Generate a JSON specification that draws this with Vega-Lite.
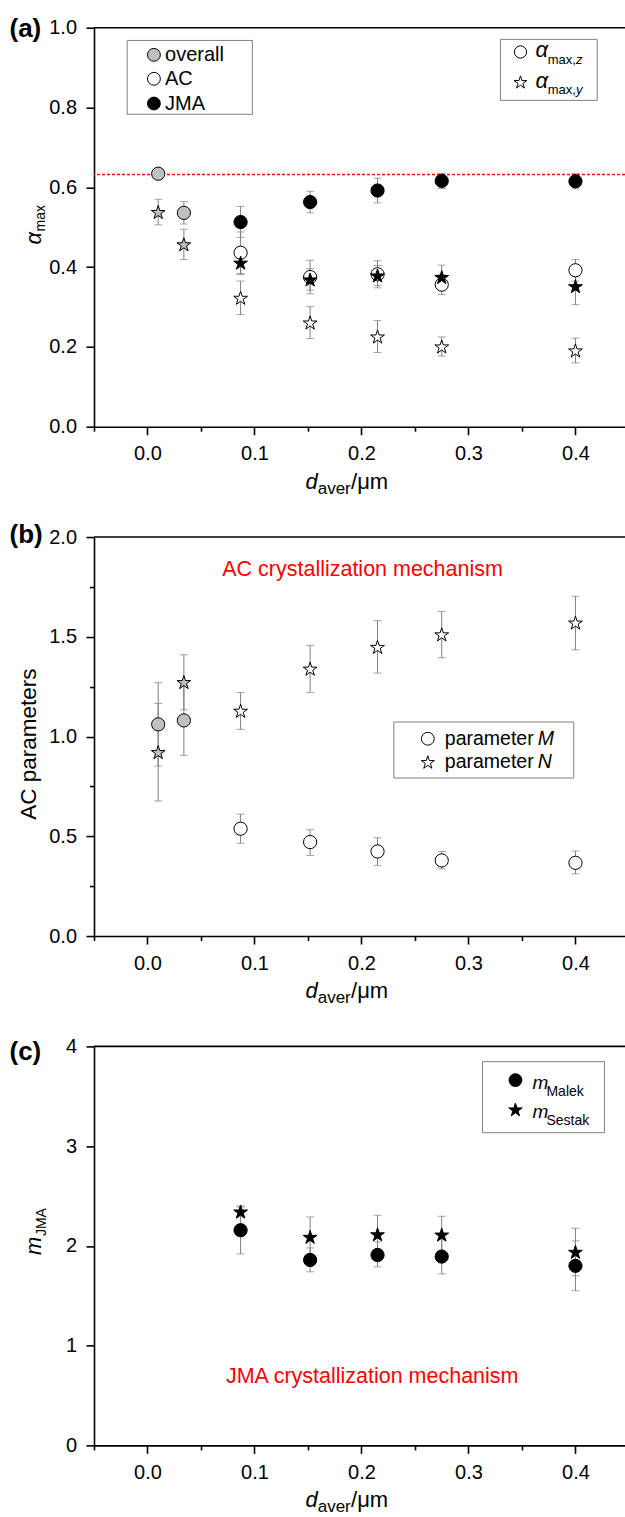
{
  "$schema": "https://vega.github.io/schema/vega-lite/v6.json",
  "padding": {"left": 9, "top": 15.7, "right": 0, "bottom": 0},
  "bounds": "flush",
  "spacing": 110.35,
  "resolve": {"scale": {"x": "independent", "y": "independent", "fill": "independent"}},
  "config": {
    "font": "Liberation Sans",
    "view": {"stroke": null},
    "axis": {"grid": false, "domainColor": "#000000", "domainWidth": 1.6, "tickColor": "#000000", "tickWidth": 1.6, "labelColor": "#000000", "labelFont": "Liberation Sans", "labelFontSize": 20, "labelFlush": false, "labelOverlap": false, "labelBound": false, "titleFont": "Liberation Sans", "titleFontSize": 20, "titleFontWeight": "normal", "titleColor": "#000000"},
    "text": {"font": "Liberation Sans", "color": "#000000"}
  },
  "datasets": {
    "pts": [
      {"p": "a", "x": 0.01, "g": "overall", "q": "z", "v": 0.634, "lo": 0.628, "hi": 0.640},
      {"p": "a", "x": 0.034, "g": "overall", "q": "z", "v": 0.536, "lo": 0.508, "hi": 0.564},
      {"p": "a", "x": 0.01, "g": "overall", "q": "y", "v": 0.538, "lo": 0.506, "hi": 0.570},
      {"p": "a", "x": 0.034, "g": "overall", "q": "y", "v": 0.457, "lo": 0.419, "hi": 0.495},
      {"p": "a", "x": 0.087, "g": "AC", "q": "z", "v": 0.436, "lo": 0.384, "hi": 0.488},
      {"p": "a", "x": 0.152, "g": "AC", "q": "z", "v": 0.375, "lo": 0.333, "hi": 0.417},
      {"p": "a", "x": 0.215, "g": "AC", "q": "z", "v": 0.382, "lo": 0.348, "hi": 0.416},
      {"p": "a", "x": 0.275, "g": "AC", "q": "z", "v": 0.356, "lo": 0.331, "hi": 0.381},
      {"p": "a", "x": 0.40, "g": "AC", "q": "z", "v": 0.392, "lo": 0.365, "hi": 0.419},
      {"p": "a", "x": 0.087, "g": "AC", "q": "y", "v": 0.323, "lo": 0.281, "hi": 0.365},
      {"p": "a", "x": 0.152, "g": "AC", "q": "y", "v": 0.261, "lo": 0.221, "hi": 0.301},
      {"p": "a", "x": 0.215, "g": "AC", "q": "y", "v": 0.226, "lo": 0.186, "hi": 0.266},
      {"p": "a", "x": 0.275, "g": "AC", "q": "y", "v": 0.201, "lo": 0.177, "hi": 0.225},
      {"p": "a", "x": 0.40, "g": "AC", "q": "y", "v": 0.191, "lo": 0.160, "hi": 0.222},
      {"p": "a", "x": 0.087, "g": "JMA", "q": "z", "v": 0.513, "lo": 0.474, "hi": 0.552},
      {"p": "a", "x": 0.152, "g": "JMA", "q": "z", "v": 0.563, "lo": 0.536, "hi": 0.590},
      {"p": "a", "x": 0.215, "g": "JMA", "q": "z", "v": 0.592, "lo": 0.561, "hi": 0.623},
      {"p": "a", "x": 0.275, "g": "JMA", "q": "z", "v": 0.616, "lo": 0.597, "hi": 0.635},
      {"p": "a", "x": 0.40, "g": "JMA", "q": "z", "v": 0.615, "lo": 0.596, "hi": 0.634},
      {"p": "a", "x": 0.087, "g": "JMA", "q": "y", "v": 0.411, "lo": 0.381, "hi": 0.441},
      {"p": "a", "x": 0.152, "g": "JMA", "q": "y", "v": 0.369, "lo": 0.342, "hi": 0.396},
      {"p": "a", "x": 0.215, "g": "JMA", "q": "y", "v": 0.379, "lo": 0.354, "hi": 0.404},
      {"p": "a", "x": 0.275, "g": "JMA", "q": "y", "v": 0.375, "lo": 0.345, "hi": 0.405},
      {"p": "a", "x": 0.40, "g": "JMA", "q": "y", "v": 0.352, "lo": 0.306, "hi": 0.398},
      {"p": "b", "x": 0.01, "g": "overall", "q": "M", "v": 1.061, "lo": 0.852, "hi": 1.270},
      {"p": "b", "x": 0.034, "g": "overall", "q": "M", "v": 1.081, "lo": 0.906, "hi": 1.256},
      {"p": "b", "x": 0.01, "g": "overall", "q": "N", "v": 0.922, "lo": 0.677, "hi": 1.166},
      {"p": "b", "x": 0.034, "g": "overall", "q": "N", "v": 1.273, "lo": 1.134, "hi": 1.410},
      {"p": "b", "x": 0.087, "g": "AC", "q": "M", "v": 0.538, "lo": 0.465, "hi": 0.611},
      {"p": "b", "x": 0.152, "g": "AC", "q": "M", "v": 0.471, "lo": 0.404, "hi": 0.533},
      {"p": "b", "x": 0.215, "g": "AC", "q": "M", "v": 0.424, "lo": 0.354, "hi": 0.493},
      {"p": "b", "x": 0.275, "g": "AC", "q": "M", "v": 0.379, "lo": 0.337, "hi": 0.424},
      {"p": "b", "x": 0.40, "g": "AC", "q": "M", "v": 0.367, "lo": 0.312, "hi": 0.426},
      {"p": "b", "x": 0.087, "g": "AC", "q": "N", "v": 1.129, "lo": 1.036, "hi": 1.221},
      {"p": "b", "x": 0.152, "g": "AC", "q": "N", "v": 1.340, "lo": 1.221, "hi": 1.457},
      {"p": "b", "x": 0.215, "g": "AC", "q": "N", "v": 1.449, "lo": 1.318, "hi": 1.581},
      {"p": "b", "x": 0.275, "g": "AC", "q": "N", "v": 1.512, "lo": 1.395, "hi": 1.627},
      {"p": "b", "x": 0.40, "g": "AC", "q": "N", "v": 1.571, "lo": 1.435, "hi": 1.703},
      {"p": "c", "x": 0.087, "g": "JMA", "q": "Malek", "v": 2.157, "lo": 1.920, "hi": 2.390},
      {"p": "c", "x": 0.152, "g": "JMA", "q": "Malek", "v": 1.859, "lo": 1.740, "hi": 1.980},
      {"p": "c", "x": 0.215, "g": "JMA", "q": "Malek", "v": 1.909, "lo": 1.790, "hi": 2.040},
      {"p": "c", "x": 0.275, "g": "JMA", "q": "Malek", "v": 1.893, "lo": 1.720, "hi": 2.070},
      {"p": "c", "x": 0.40, "g": "JMA", "q": "Malek", "v": 1.800, "lo": 1.550, "hi": 2.050},
      {"p": "c", "x": 0.087, "g": "JMA", "q": "Sestak", "v": 2.344, "lo": 2.290, "hi": 2.400},
      {"p": "c", "x": 0.152, "g": "JMA", "q": "Sestak", "v": 2.090, "lo": 1.890, "hi": 2.290},
      {"p": "c", "x": 0.215, "g": "JMA", "q": "Sestak", "v": 2.116, "lo": 1.925, "hi": 2.307},
      {"p": "c", "x": 0.275, "g": "JMA", "q": "Sestak", "v": 2.113, "lo": 1.930, "hi": 2.297},
      {"p": "c", "x": 0.40, "g": "JMA", "q": "Sestak", "v": 1.940, "lo": 1.700, "hi": 2.177}
    ]
  },
  "vconcat": [
    {
      "width": 531, "height": 399,
      "layer": [
        {"data": {"name": "pts"}, "transform": [{"filter": "datum.p=='a'"}],
         "mark": {"type": "errorbar", "ticks": true, "size": 8, "thickness": 1, "color": "#808080"},
         "encoding": {"x": {"field": "x", "type": "quantitative", "title": null}, "y": {"field": "lo", "type": "quantitative", "title": null}, "y2": {"field": "hi"}}},
        {"data": {"values": [{}]}, "mark": {"type": "rule", "color": "#ff0000", "strokeDash": [3, 2], "strokeWidth": 1.5}, "encoding": {"y": {"datum": 0.632}}},
        {"data": {"name": "pts"}, "transform": [{"filter": "datum.p=='a' && datum.q=='z'"}],
         "mark": {"type": "point", "shape": "circle", "size": 175, "filled": true, "opacity": 1, "stroke": "#000000", "strokeWidth": 1},
         "encoding": {
           "x": {"field": "x", "type": "quantitative", "title": null, "scale": {"domain": [-0.05, 0.4463], "nice": false, "zero": false},
                 "axis": {"orient": "bottom", "values": [-0.05, 0, 0.05, 0.1, 0.15, 0.2, 0.25, 0.3, 0.35, 0.4], "format": ".1f", "labelExpr": "abs(datum.value*10-round(datum.value*10))>0.01 ? '' : datum.label", "tickSize": {"condition": {"test": "abs(datum.value*10-round(datum.value*10))>0.01", "value": 4.5}, "value": 8}, "labelPadding": 9}},
           "y": {"field": "v", "type": "quantitative", "title": null, "scale": {"domain": [0, 1], "nice": false, "zero": false},
                 "axis": {"orient": "left", "values": [0, 0.1, 0.2, 0.3, 0.4, 0.5, 0.6, 0.7, 0.8, 0.9, 1], "format": ".1f", "labelExpr": "abs(datum.value*5-round(datum.value*5))>0.01 ? '' : datum.label", "tickSize": {"condition": {"test": "abs(datum.value*5-round(datum.value*5))>0.01", "value": 4.5}, "value": 8}, "labelPadding": 9.5}},
           "fill": {"field": "g", "type": "nominal", "scale": {"domain": ["overall", "AC", "JMA"], "range": ["#c0c0c0", "#ffffff", "#000000"]}, "legend": null}}},
        {"data": {"name": "pts"}, "transform": [{"filter": "datum.p=='a' && datum.q=='y'"}],
         "mark": {"type": "point", "shape": "M0,-0.905L0.225,-0.214L0.951,-0.214L0.363,0.214L0.588,0.905L0,0.478L-0.588,0.905L-0.363,0.214L-0.951,-0.214L-0.225,-0.214Z", "size": 210, "filled": true, "opacity": 1, "stroke": "#000000", "strokeWidth": 1},
         "encoding": {"x": {"field": "x", "type": "quantitative", "title": null}, "y": {"field": "v", "type": "quantitative", "title": null},
           "fill": {"field": "g", "type": "nominal", "scale": {"domain": ["overall", "AC", "JMA"], "range": ["#c0c0c0", "#ffffff", "#000000"]}, "legend": null}}},
        {"data": {"values": [{}]}, "mark": {"type": "rule", "color": "#000000", "strokeWidth": 1.6}, "encoding": {"y": {"datum": 1}}},
        {"data": {"values": [{}]}, "mark": {"type": "rect", "fill": "#ffffff", "stroke": "#808080", "strokeWidth": 1}, "encoding": {"x": {"datum": -0.019}, "x2": {"datum": 0.098}, "y": {"datum": 0.968}, "y2": {"datum": 0.783}}},
        {"data": {"values": [{}]}, "mark": {"type": "point", "shape": "circle", "size": 165, "filled": true, "opacity": 1, "fill": "#c0c0c0", "stroke": "#000000", "strokeWidth": 1}, "encoding": {"x": {"datum": 0.006}, "y": {"datum": 0.932}}},
        {"data": {"values": [{}]}, "mark": {"type": "point", "shape": "circle", "size": 165, "filled": true, "opacity": 1, "fill": "#ffffff", "stroke": "#000000", "strokeWidth": 1}, "encoding": {"x": {"datum": 0.006}, "y": {"datum": 0.872}}},
        {"data": {"values": [{}]}, "mark": {"type": "point", "shape": "circle", "size": 165, "filled": true, "opacity": 1, "fill": "#000000", "stroke": "#000000", "strokeWidth": 1}, "encoding": {"x": {"datum": 0.006}, "y": {"datum": 0.810}}},
        {"data": {"values": [{}]}, "mark": {"type": "text", "text": "overall", "align": "left", "baseline": "middle", "fontSize": 20}, "encoding": {"x": {"datum": 0.0164}, "y": {"datum": 0.932}}},
        {"data": {"values": [{}]}, "mark": {"type": "text", "text": "AC", "align": "left", "baseline": "middle", "fontSize": 20}, "encoding": {"x": {"datum": 0.0164}, "y": {"datum": 0.872}}},
        {"data": {"values": [{}]}, "mark": {"type": "text", "text": "JMA", "align": "left", "baseline": "middle", "fontSize": 20}, "encoding": {"x": {"datum": 0.0164}, "y": {"datum": 0.810}}},
        {"data": {"values": [{}]}, "mark": {"type": "rect", "fill": "#ffffff", "stroke": "#808080", "strokeWidth": 1}, "encoding": {"x": {"datum": 0.3299}, "x2": {"datum": 0.4203}, "y": {"datum": 0.9707}, "y2": {"datum": 0.8178}}},
        {"data": {"values": [{}]}, "mark": {"type": "point", "shape": "circle", "size": 150, "filled": true, "opacity": 1, "fill": "#ffffff", "stroke": "#000000", "strokeWidth": 1}, "encoding": {"x": {"datum": 0.3486}, "y": {"datum": 0.9391}}},
        {"data": {"values": [{}]}, "mark": {"type": "point", "shape": "M0,-0.905L0.225,-0.214L0.951,-0.214L0.363,0.214L0.588,0.905L0,0.478L-0.588,0.905L-0.363,0.214L-0.951,-0.214L-0.225,-0.214Z", "size": 180, "filled": true, "opacity": 1, "fill": "#ffffff", "stroke": "#000000", "strokeWidth": 1}, "encoding": {"x": {"datum": 0.3486}, "y": {"datum": 0.8639}}},
        {"data": {"values": [{}]}, "mark": {"type": "text", "text": "α", "align": "left", "baseline": "alphabetic", "fontSize": 22, "fontStyle": "italic"}, "encoding": {"x": {"datum": 0.3626}, "y": {"datum": 0.9266}}},
        {"data": {"values": [{}]}, "mark": {"type": "text", "text": "max,", "align": "left", "baseline": "alphabetic", "fontSize": 13}, "encoding": {"x": {"datum": 0.3741}, "y": {"datum": 0.9093}}},
        {"data": {"values": [{}]}, "mark": {"type": "text", "text": "z", "align": "left", "baseline": "alphabetic", "fontSize": 13, "fontStyle": "italic"}, "encoding": {"x": {"datum": 0.4005}, "y": {"datum": 0.9093}}},
        {"data": {"values": [{}]}, "mark": {"type": "text", "text": "α", "align": "left", "baseline": "alphabetic", "fontSize": 22, "fontStyle": "italic"}, "encoding": {"x": {"datum": 0.3626}, "y": {"datum": 0.8501}}},
        {"data": {"values": [{}]}, "mark": {"type": "text", "text": "max,", "align": "left", "baseline": "alphabetic", "fontSize": 13}, "encoding": {"x": {"datum": 0.3741}, "y": {"datum": 0.8326}}},
        {"data": {"values": [{}]}, "mark": {"type": "text", "text": "y", "align": "left", "baseline": "alphabetic", "fontSize": 13, "fontStyle": "italic"}, "encoding": {"x": {"datum": 0.4005}, "y": {"datum": 0.8326}}},
        {"data": {"values": [{}]}, "mark": {"type": "text", "text": "α", "align": "left", "baseline": "alphabetic", "fontSize": 22, "fontStyle": "italic", "angle": 270, "dy": -53.5}, "encoding": {"x": {"datum": -0.05}, "y": {"datum": 0.4566}}},
        {"data": {"values": [{}]}, "mark": {"type": "text", "text": "max", "align": "left", "baseline": "alphabetic", "fontSize": 14, "angle": 270, "dx": 13, "dy": -49}, "encoding": {"x": {"datum": -0.05}, "y": {"datum": 0.4566}}},
        {"data": {"values": [{}]}, "mark": {"type": "text", "text": "d", "align": "left", "baseline": "alphabetic", "fontSize": 22, "fontStyle": "italic", "dy": 62}, "encoding": {"x": {"datum": 0.1477}, "y": {"datum": 0}}},
        {"data": {"values": [{}]}, "mark": {"type": "text", "text": "aver", "align": "left", "baseline": "alphabetic", "fontSize": 17, "dx": 12.2, "dy": 67}, "encoding": {"x": {"datum": 0.1477}, "y": {"datum": 0}}},
        {"data": {"values": [{}]}, "mark": {"type": "text", "text": "/μm", "align": "left", "baseline": "alphabetic", "fontSize": 22, "dx": 45.5, "dy": 62}, "encoding": {"x": {"datum": 0.1477}, "y": {"datum": 0}}},
        {"data": {"values": [{}]}, "mark": {"type": "text", "text": "(a)", "align": "left", "baseline": "middle", "fontSize": 26, "fontWeight": "bold", "dx": -84.5, "dy": 1.2}, "encoding": {"x": {"datum": -0.05}, "y": {"datum": 1}}}
      ]
    },
    {
      "width": 531, "height": 399,
      "layer": [
        {"data": {"name": "pts"}, "transform": [{"filter": "datum.p=='b'"}],
         "mark": {"type": "errorbar", "ticks": true, "size": 8, "thickness": 1, "color": "#808080"},
         "encoding": {"x": {"field": "x", "type": "quantitative", "title": null}, "y": {"field": "lo", "type": "quantitative", "title": null}, "y2": {"field": "hi"}}},
        {"data": {"name": "pts"}, "transform": [{"filter": "datum.p=='b' && datum.q=='M'"}],
         "mark": {"type": "point", "shape": "circle", "size": 175, "filled": true, "opacity": 1, "stroke": "#000000", "strokeWidth": 1},
         "encoding": {
           "x": {"field": "x", "type": "quantitative", "title": null, "scale": {"domain": [-0.05, 0.4463], "nice": false, "zero": false},
                 "axis": {"orient": "bottom", "values": [-0.05, 0, 0.05, 0.1, 0.15, 0.2, 0.25, 0.3, 0.35, 0.4], "format": ".1f", "labelExpr": "abs(datum.value*10-round(datum.value*10))>0.01 ? '' : datum.label", "tickSize": {"condition": {"test": "abs(datum.value*10-round(datum.value*10))>0.01", "value": 4.5}, "value": 8}, "labelPadding": 9}},
           "y": {"field": "v", "type": "quantitative", "title": null, "scale": {"domain": [0, 2], "nice": false, "zero": false},
                 "axis": {"orient": "left", "values": [0, 0.25, 0.5, 0.75, 1, 1.25, 1.5, 1.75, 2], "format": ".1f", "labelExpr": "abs(datum.value*2-round(datum.value*2))>0.01 ? '' : datum.label", "tickSize": {"condition": {"test": "abs(datum.value*2-round(datum.value*2))>0.01", "value": 4.5}, "value": 8}, "labelPadding": 9.5}},
           "fill": {"field": "g", "type": "nominal", "scale": {"domain": ["overall", "AC", "JMA"], "range": ["#c0c0c0", "#ffffff", "#000000"]}, "legend": null}}},
        {"data": {"name": "pts"}, "transform": [{"filter": "datum.p=='b' && datum.q=='N'"}],
         "mark": {"type": "point", "shape": "M0,-0.905L0.225,-0.214L0.951,-0.214L0.363,0.214L0.588,0.905L0,0.478L-0.588,0.905L-0.363,0.214L-0.951,-0.214L-0.225,-0.214Z", "size": 210, "filled": true, "opacity": 1, "stroke": "#000000", "strokeWidth": 1},
         "encoding": {"x": {"field": "x", "type": "quantitative", "title": null}, "y": {"field": "v", "type": "quantitative", "title": null},
           "fill": {"field": "g", "type": "nominal", "scale": {"domain": ["overall", "AC", "JMA"], "range": ["#c0c0c0", "#ffffff", "#000000"]}, "legend": null}}},
        {"data": {"values": [{}]}, "mark": {"type": "rule", "color": "#000000", "strokeWidth": 1.6}, "encoding": {"y": {"datum": 2}}},
        {"data": {"values": [{}]}, "mark": {"type": "text", "text": "AC crystallization mechanism", "align": "center", "baseline": "middle", "fontSize": 21.5, "color": "#ff0000"}, "encoding": {"x": {"datum": 0.201}, "y": {"datum": 1.833}}},
        {"data": {"values": [{}]}, "mark": {"type": "rect", "fill": "#ffffff", "stroke": "#808080", "strokeWidth": 1}, "encoding": {"x": {"datum": 0.2302}, "x2": {"datum": 0.3984}, "y": {"datum": 1.0727}, "y2": {"datum": 0.792}}},
        {"data": {"values": [{}]}, "mark": {"type": "point", "shape": "circle", "size": 165, "filled": true, "opacity": 1, "fill": "#ffffff", "stroke": "#000000", "strokeWidth": 1}, "encoding": {"x": {"datum": 0.262}, "y": {"datum": 0.989}}},
        {"data": {"values": [{}]}, "mark": {"type": "point", "shape": "M0,-0.905L0.225,-0.214L0.951,-0.214L0.363,0.214L0.588,0.905L0,0.478L-0.588,0.905L-0.363,0.214L-0.951,-0.214L-0.225,-0.214Z", "size": 190, "filled": true, "opacity": 1, "fill": "#ffffff", "stroke": "#000000", "strokeWidth": 1}, "encoding": {"x": {"datum": 0.262}, "y": {"datum": 0.8722}}},
        {"data": {"values": [{}]}, "mark": {"type": "text", "text": "parameter", "align": "left", "baseline": "middle", "fontSize": 19.5}, "encoding": {"x": {"datum": 0.2779}, "y": {"datum": 0.989}}},
        {"data": {"values": [{}]}, "mark": {"type": "text", "text": "M", "align": "left", "baseline": "middle", "fontSize": 19.5, "fontStyle": "italic"}, "encoding": {"x": {"datum": 0.3648}, "y": {"datum": 0.989}}},
        {"data": {"values": [{}]}, "mark": {"type": "text", "text": "parameter", "align": "left", "baseline": "middle", "fontSize": 19.5}, "encoding": {"x": {"datum": 0.2779}, "y": {"datum": 0.8722}}},
        {"data": {"values": [{}]}, "mark": {"type": "text", "text": "N", "align": "left", "baseline": "middle", "fontSize": 19.5, "fontStyle": "italic"}, "encoding": {"x": {"datum": 0.3648}, "y": {"datum": 0.8722}}},
        {"data": {"values": [{}]}, "mark": {"type": "text", "text": "AC parameters", "align": "center", "baseline": "alphabetic", "fontSize": 22.5, "angle": 270, "dy": -58.2}, "encoding": {"x": {"datum": -0.05}, "y": {"datum": 0.962}}},
        {"data": {"values": [{}]}, "mark": {"type": "text", "text": "d", "align": "left", "baseline": "alphabetic", "fontSize": 22, "fontStyle": "italic", "dy": 62}, "encoding": {"x": {"datum": 0.1477}, "y": {"datum": 0}}},
        {"data": {"values": [{}]}, "mark": {"type": "text", "text": "aver", "align": "left", "baseline": "alphabetic", "fontSize": 17, "dx": 12.2, "dy": 67}, "encoding": {"x": {"datum": 0.1477}, "y": {"datum": 0}}},
        {"data": {"values": [{}]}, "mark": {"type": "text", "text": "/μm", "align": "left", "baseline": "alphabetic", "fontSize": 22, "dx": 45.5, "dy": 62}, "encoding": {"x": {"datum": 0.1477}, "y": {"datum": 0}}},
        {"data": {"values": [{}]}, "mark": {"type": "text", "text": "(b)", "align": "left", "baseline": "middle", "fontSize": 26, "fontWeight": "bold", "dx": -84.5, "dy": -2.5}, "encoding": {"x": {"datum": -0.05}, "y": {"datum": 2}}}
      ]
    },
    {
      "width": 531, "height": 399,
      "layer": [
        {"data": {"name": "pts"}, "transform": [{"filter": "datum.p=='c'"}],
         "mark": {"type": "errorbar", "ticks": true, "size": 8, "thickness": 1, "color": "#808080"},
         "encoding": {"x": {"field": "x", "type": "quantitative", "title": null}, "y": {"field": "lo", "type": "quantitative", "title": null}, "y2": {"field": "hi"}}},
        {"data": {"name": "pts"}, "transform": [{"filter": "datum.p=='c' && datum.q=='Malek'"}],
         "mark": {"type": "point", "shape": "circle", "size": 175, "filled": true, "opacity": 1, "stroke": "#000000", "strokeWidth": 1},
         "encoding": {
           "x": {"field": "x", "type": "quantitative", "title": null, "scale": {"domain": [-0.05, 0.4463], "nice": false, "zero": false},
                 "axis": {"orient": "bottom", "values": [-0.05, 0, 0.05, 0.1, 0.15, 0.2, 0.25, 0.3, 0.35, 0.4], "format": ".1f", "labelExpr": "abs(datum.value*10-round(datum.value*10))>0.01 ? '' : datum.label", "tickSize": {"condition": {"test": "abs(datum.value*10-round(datum.value*10))>0.01", "value": 4.5}, "value": 8}, "labelPadding": 9}},
           "y": {"field": "v", "type": "quantitative", "title": null, "scale": {"domain": [0, 4], "nice": false, "zero": false},
                 "axis": {"orient": "left", "values": [0, 0.5, 1, 1.5, 2, 2.5, 3, 3.5, 4], "format": "d", "labelExpr": "abs(datum.value-round(datum.value))>0.01 ? '' : datum.label", "tickSize": {"condition": {"test": "abs(datum.value-round(datum.value))>0.01", "value": 4.5}, "value": 8}, "labelPadding": 9.5}},
           "fill": {"field": "g", "type": "nominal", "scale": {"domain": ["overall", "AC", "JMA"], "range": ["#c0c0c0", "#ffffff", "#000000"]}, "legend": null}}},
        {"data": {"name": "pts"}, "transform": [{"filter": "datum.p=='c' && datum.q=='Sestak'"}],
         "mark": {"type": "point", "shape": "M0,-0.905L0.225,-0.214L0.951,-0.214L0.363,0.214L0.588,0.905L0,0.478L-0.588,0.905L-0.363,0.214L-0.951,-0.214L-0.225,-0.214Z", "size": 210, "filled": true, "opacity": 1, "stroke": "#000000", "strokeWidth": 1},
         "encoding": {"x": {"field": "x", "type": "quantitative", "title": null}, "y": {"field": "v", "type": "quantitative", "title": null},
           "fill": {"field": "g", "type": "nominal", "scale": {"domain": ["overall", "AC", "JMA"], "range": ["#c0c0c0", "#ffffff", "#000000"]}, "legend": null}}},
        {"data": {"values": [{}]}, "mark": {"type": "rule", "color": "#000000", "strokeWidth": 1.6}, "encoding": {"y": {"datum": 4}}},
        {"data": {"values": [{}]}, "mark": {"type": "text", "text": "JMA crystallization mechanism", "align": "center", "baseline": "middle", "fontSize": 21.5, "color": "#ff0000"}, "encoding": {"x": {"datum": 0.21}, "y": {"datum": 0.689}}},
        {"data": {"values": [{}]}, "mark": {"type": "rect", "fill": "#ffffff", "stroke": "#808080", "strokeWidth": 1}, "encoding": {"x": {"datum": 0.3131}, "x2": {"datum": 0.4271}, "y": {"datum": 3.8466}, "y2": {"datum": 3.1348}}},
        {"data": {"values": [{}]}, "mark": {"type": "point", "shape": "circle", "size": 165, "filled": true, "opacity": 1, "fill": "#000000", "stroke": "#000000", "strokeWidth": 1}, "encoding": {"x": {"datum": 0.3439}, "y": {"datum": 3.662}}},
        {"data": {"values": [{}]}, "mark": {"type": "point", "shape": "M0,-0.905L0.225,-0.214L0.951,-0.214L0.363,0.214L0.588,0.905L0,0.478L-0.588,0.905L-0.363,0.214L-0.951,-0.214L-0.225,-0.214Z", "size": 200, "filled": true, "opacity": 1, "fill": "#000000", "stroke": "#000000", "strokeWidth": 1}, "encoding": {"x": {"datum": 0.3439}, "y": {"datum": 3.368}}},
        {"data": {"values": [{}]}, "mark": {"type": "text", "text": "m", "align": "left", "baseline": "alphabetic", "fontSize": 19, "fontStyle": "italic"}, "encoding": {"x": {"datum": 0.3598}, "y": {"datum": 3.5689}}},
        {"data": {"values": [{}]}, "mark": {"type": "text", "text": "Malek", "align": "left", "baseline": "alphabetic", "fontSize": 14}, "encoding": {"x": {"datum": 0.3729}, "y": {"datum": 3.5018}}},
        {"data": {"values": [{}]}, "mark": {"type": "text", "text": "m", "align": "left", "baseline": "alphabetic", "fontSize": 19, "fontStyle": "italic"}, "encoding": {"x": {"datum": 0.3598}, "y": {"datum": 3.28}}},
        {"data": {"values": [{}]}, "mark": {"type": "text", "text": "Sestak", "align": "left", "baseline": "alphabetic", "fontSize": 14}, "encoding": {"x": {"datum": 0.3729}, "y": {"datum": 3.2105}}},
        {"data": {"values": [{}]}, "mark": {"type": "text", "text": "m", "align": "left", "baseline": "alphabetic", "fontSize": 22, "fontStyle": "italic", "angle": 270, "dy": -53.5}, "encoding": {"x": {"datum": -0.05}, "y": {"datum": 1.908}}},
        {"data": {"values": [{}]}, "mark": {"type": "text", "text": "JMA", "align": "left", "baseline": "alphabetic", "fontSize": 14, "angle": 270, "dx": 19, "dy": -48.5}, "encoding": {"x": {"datum": -0.05}, "y": {"datum": 1.908}}},
        {"data": {"values": [{}]}, "mark": {"type": "text", "text": "d", "align": "left", "baseline": "alphabetic", "fontSize": 22, "fontStyle": "italic", "dy": 62}, "encoding": {"x": {"datum": 0.1477}, "y": {"datum": 0}}},
        {"data": {"values": [{}]}, "mark": {"type": "text", "text": "aver", "align": "left", "baseline": "alphabetic", "fontSize": 17, "dx": 12.2, "dy": 67}, "encoding": {"x": {"datum": 0.1477}, "y": {"datum": 0}}},
        {"data": {"values": [{}]}, "mark": {"type": "text", "text": "/μm", "align": "left", "baseline": "alphabetic", "fontSize": 22, "dx": 45.5, "dy": 62}, "encoding": {"x": {"datum": 0.1477}, "y": {"datum": 0}}},
        {"data": {"values": [{}]}, "mark": {"type": "text", "text": "(c)", "align": "left", "baseline": "middle", "fontSize": 26, "fontWeight": "bold", "dx": -84.5, "dy": 6}, "encoding": {"x": {"datum": -0.05}, "y": {"datum": 4}}}
      ]
    }
  ]
}
